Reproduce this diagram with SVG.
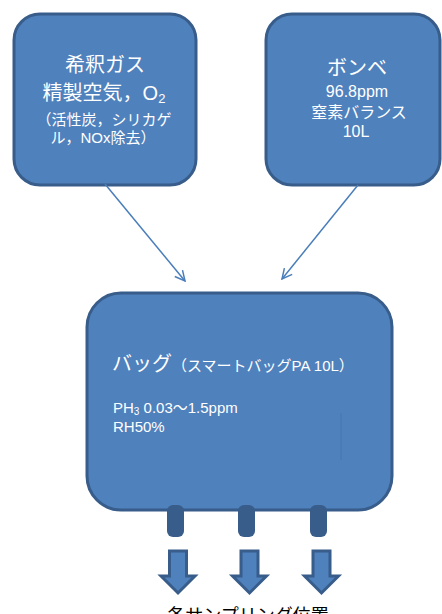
<svg xmlns="http://www.w3.org/2000/svg" width="442" height="614" viewBox="0 0 442 614">
<style>
.box{fill:#4F81BD;stroke:#385D8A;stroke-width:3}
.t{fill:#fff;font-family:"Liberation Sans","Noto Sans CJK JP",sans-serif;text-anchor:middle}
.l{fill:#fff;font-family:"Liberation Sans","Noto Sans CJK JP",sans-serif}
.con{stroke:#4A7EBB;stroke-width:1.5;fill:none}
.outlet{fill:#385D8A}
.barrow{fill:#4F81BD;stroke:#385D8A;stroke-width:3;stroke-linejoin:miter}
.bottom{fill:#000;font-family:"Noto Sans CJK JP",sans-serif;text-anchor:middle}
</style>
<defs>
<marker id="open" viewBox="0 0 12 12" refX="11" refY="6" markerWidth="12" markerHeight="12" markerUnits="userSpaceOnUse" orient="auto">
<path d="M1,1 L11,6 L1,11" fill="none" stroke="#4A7EBB" stroke-width="1.5"/>
</marker>
</defs>
<g id="node-dilution">
<rect class="box" x="14" y="14" width="182" height="171" rx="26"/>
<text class="t" x="105" y="72" font-size="20">希釈ガス</text>
<text class="t" x="104" y="100" font-size="20">精製空気，O<tspan font-size="13" dy="3">2</tspan></text>
<text class="t" x="104" y="125" font-size="15">（活性炭，シリカゲ</text>
<text class="t" x="103" y="143" font-size="15">ル，NOx除去）</text>
</g>
<g id="node-cylinder">
<rect class="box" x="266" y="14" width="174" height="171" rx="26"/>
<text class="t" x="357" y="75" font-size="20">ボンベ</text>
<text class="t" x="357" y="97" font-size="16">96.8ppm</text>
<text class="t" x="359" y="118" font-size="16">窒素バランス</text>
<text class="t" x="356" y="137" font-size="16">10L</text>
</g>
<g id="node-bag">
<rect class="box" x="87" y="293" width="305" height="217" rx="34"/>
<text class="l" x="112" y="371"><tspan font-size="20">バッグ</tspan><tspan font-size="15">（スマートバッグPA 10L）</tspan></text>
<text class="l" x="113" y="413" font-size="15">PH<tspan font-size="10" dy="2">3</tspan><tspan dy="-2"> 0.03～1.5ppm</tspan></text>
<text class="l" x="113" y="432" font-size="15">RH50%</text>
<line x1="341" y1="413" x2="341" y2="460" stroke="#4677B2" stroke-width="1"/>
</g>
<g id="outlets">
<rect class="outlet" x="167" y="505" width="17" height="32" rx="6"/>
<rect class="outlet" x="238" y="505" width="17" height="32" rx="6"/>
<rect class="outlet" x="310" y="505" width="17" height="32" rx="6"/>
</g>
<g id="block-arrows">
<path class="barrow" d="M169.5,551 H186.5 V576 H195 L178,593 L161,576 H169.5 Z"/>
<path class="barrow" d="M241,551 H258 V576 H266.5 L249.5,593 L232.5,576 H241 Z"/>
<path class="barrow" d="M313,551 H330 V576 H338.5 L321.5,593 L304.5,576 H313 Z"/>
</g>
<g id="connectors">
<line class="con" x1="105" y1="184" x2="185" y2="281" marker-end="url(#open)"/>
<line class="con" x1="358" y1="185" x2="282" y2="279" marker-end="url(#open)"/>
</g>
<g id="label-bottom">
<text class="bottom" x="248" y="622" font-size="18">各サンプリング位置</text>
</g>
</svg>
